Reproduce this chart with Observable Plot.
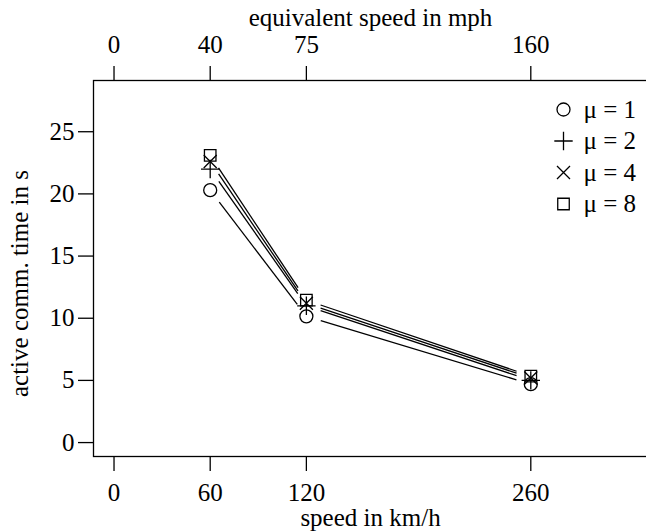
<!DOCTYPE html>
<html><head><meta charset="utf-8">
<script src="https://cdn.jsdelivr.net/npm/d3@7"></script>
<script src="https://cdn.jsdelivr.net/npm/@observablehq/plot@0.6"></script>
<style>html,body{margin:0;padding:0;overflow:hidden;background:#fff;}</style>
</head><body><div id="chart"></div>
<script>
// ---- data ----
const speedsKmh = [60, 120, 260];
const seriesNames = ["μ = 1", "μ = 2", "μ = 4", "μ = 8"];
const mu1 = [20.3, 10.15, 4.7];
const mu2 = [22.0, 11.0, 5.0];
const mu4 = [22.6, 11.2, 5.2];
const mu8 = [23.1, 11.45, 5.35];
const bottomTicks = [0, 60, 120, 260];
const topTickLabels = ["0", "40", "75", "160"];
const yTicks = [0, 5, 10, 15, 20, 25];

const allSeries = [mu1, mu2, mu4, mu8];
const points = [];
allSeries.forEach((vals, s) => vals.forEach((v, i) => points.push({series: seriesNames[s], speed: speedsKmh[i], time: v})));

// ---- layout ----
const W = 646, H = 532, mL = 93, mR = -1, mT = 80, mB = 76;
const xDomain = [-12.8, 332.8], yDomain = [-1.12, 29.12];
const xRange = [mL, W - mR], yRange = [H - mB, mT];
const FONT = 25;

// R-like point symbols (pch 1, 3, 4, 0)
const rCircle = {draw(c, size) { const R = Math.sqrt(size / Math.PI); c.moveTo(R, 0); c.arc(0, 0, R, 0, 2 * Math.PI); }};
const rPlus = {draw(c, size) { const s = Math.SQRT2 * Math.sqrt(size / Math.PI); c.moveTo(-s, 0); c.lineTo(s, 0); c.moveTo(0, -s); c.lineTo(0, s); }};
const rTimes = {draw(c, size) { const s = Math.sqrt(size / Math.PI); c.moveTo(-s, -s); c.lineTo(s, s); c.moveTo(-s, s); c.lineTo(s, -s); }};
const rSquare = {draw(c, size) { const s = 0.8862 * Math.sqrt(size / Math.PI); c.moveTo(-s, -s); c.lineTo(s, -s); c.lineTo(s, s); c.lineTo(-s, s); c.closePath(); }};
const symbols = [rCircle, rPlus, rTimes, rSquare];
const R = 6.5, LW = 1.3, GAP = 15;

// type="b" segments: gaps around points, computed through the scales
const sx = Plot.scale({x: {domain: xDomain, range: xRange}});
const sy = Plot.scale({y: {domain: yDomain, range: yRange}});
const segments = [];
allSeries.forEach((vals) => {
  for (let i = 1; i < vals.length; i++) {
    const x0 = speedsKmh[i - 1], x1 = speedsKmh[i], y0 = vals[i - 1], y1 = vals[i];
    const d = Math.hypot(sx.apply(x1) - sx.apply(x0), sy.apply(y1) - sy.apply(y0));
    const f = GAP / d;
    if (f < 0.5) segments.push({
      x1: x0 + f * (x1 - x0), y1: y0 + f * (y1 - y0),
      x2: x1 - f * (x1 - x0), y2: y1 - f * (y1 - y0)
    });
  }
});

const marks = [
  Plot.frame({stroke: "black", strokeWidth: LW}),
  Plot.axisX(bottomTicks, {anchor: "bottom", tickSize: 15, tickPadding: 12, fontSize: FONT, strokeWidth: LW, label: null}),
  Plot.axisX(bottomTicks, {anchor: "top", tickSize: 15, tickPadding: 13, fontSize: FONT, strokeWidth: LW, label: null,
    tickFormat: d => topTickLabels[bottomTicks.indexOf(d)]}),
  Plot.axisY(yTicks, {anchor: "left", tickSize: 15, tickPadding: 4, fontSize: FONT, strokeWidth: LW, label: null}),
  Plot.text(["speed in km/h"], {frameAnchor: "bottom", lineAnchor: "middle", dy: 61, fontSize: FONT}),
  Plot.text(["equivalent speed in mph"], {frameAnchor: "top", lineAnchor: "middle", dy: -63, fontSize: FONT}),
  Plot.text(["active comm. time in s"], {frameAnchor: "left", lineAnchor: "middle", textAnchor: "middle", dx: -74, dy: 15, rotate: -90, fontSize: FONT}),
  Plot.link(segments, {x1: "x1", y1: "y1", x2: "x2", y2: "y2", stroke: "black", strokeWidth: LW})
];
seriesNames.forEach((name, s) => {
  const dy = 29 + 31.5 * s;
  marks.push(Plot.dot(points.filter(p => p.series === name), {x: "speed", y: "time", symbol: symbols[s], r: R, stroke: "black", fill: "none", strokeWidth: LW}));
  marks.push(Plot.dot([name], {frameAnchor: "top-left", dx: 470, dy, symbol: symbols[s], r: R, stroke: "black", fill: "none", strokeWidth: LW}));
  marks.push(Plot.text([name], {frameAnchor: "top-left", lineAnchor: "middle", dx: 490, dy, textAnchor: "start", fontSize: FONT}));
});

const chart = Plot.plot({
  width: W, height: H,
  marginLeft: mL, marginRight: mR, marginTop: mT, marginBottom: mB,
  style: {fontFamily: "'Liberation Serif', 'Times New Roman', serif", fontSize: FONT + "px", background: "white", color: "black"},
  x: {domain: xDomain, range: xRange},
  y: {domain: yDomain, range: yRange},
  marks
});
document.getElementById("chart").appendChild(chart);
</script>
</body></html>
